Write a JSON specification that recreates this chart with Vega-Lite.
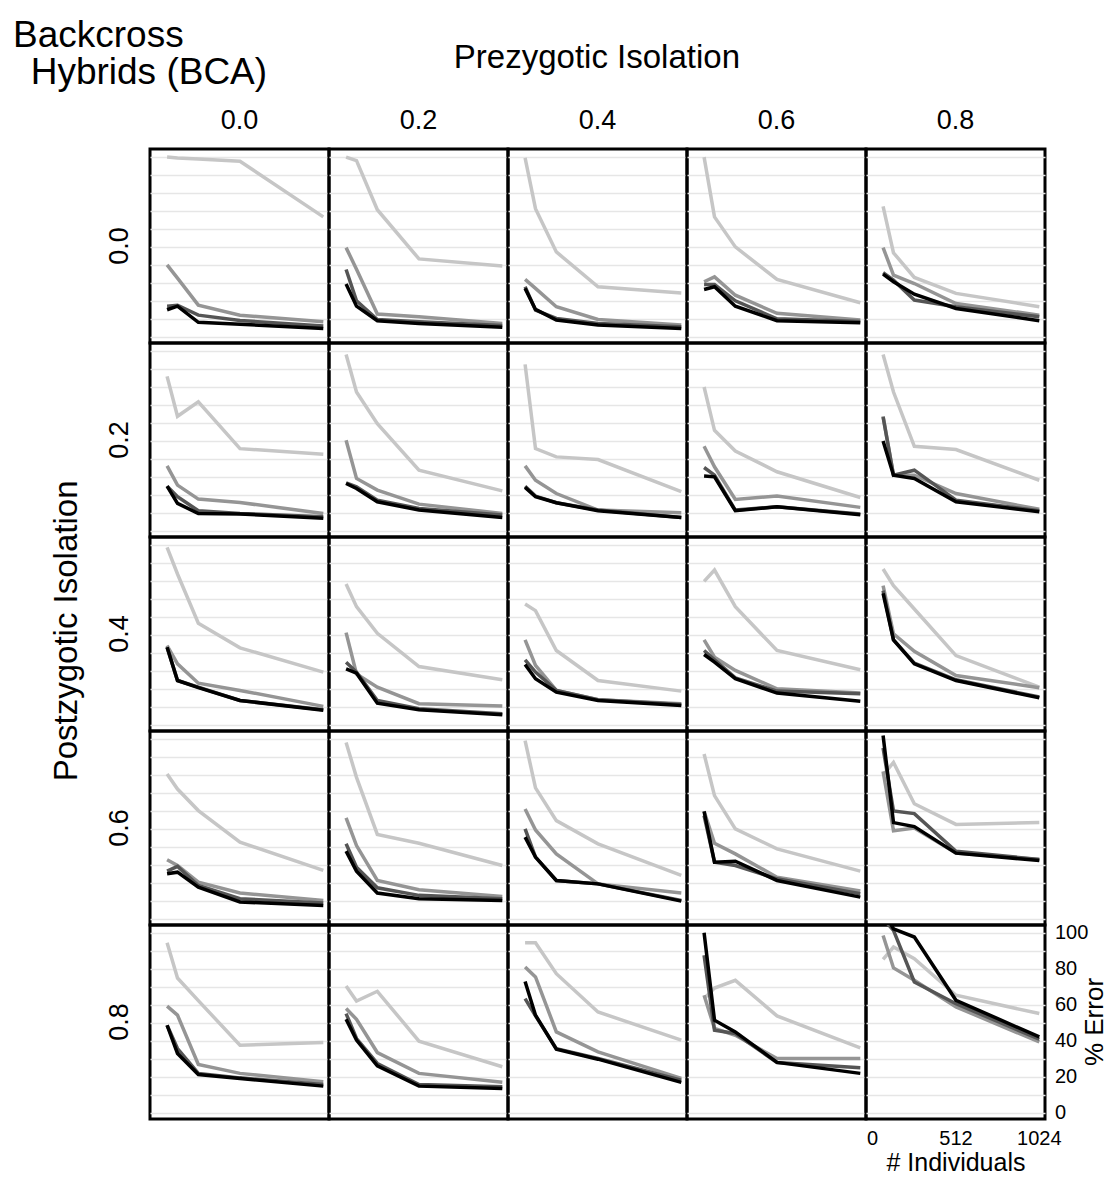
{
  "$schema": "https://vega.github.io/schema/vega-lite/v6.json",
  "background": "white",
  "padding": {"left": 12, "top": 17, "right": 0, "bottom": 0},
  "title": {"text": ["Backcross", "\u200b\u00a0\u2009Hybrids (BCA)"], "anchor": "start", "frame": "bounds", "offset": -50, "dx": -38, "fontSize": 37, "fontWeight": "normal", "font": "Liberation Sans", "color": "black", "lineHeight": 37},
  "config": {
    "font": "Liberation Sans",
    "view": {"stroke": "black", "strokeWidth": 3},
    "header": {"labelColor": "black", "titleColor": "black", "labelFont": "Liberation Sans", "titleFont": "Liberation Sans", "titleFontWeight": "normal"}
  },
  "data": {"values": [
    {"post":"0.0","pre":"0.0","s":"s1","n":64,"err":100},{"post":"0.0","pre":"0.0","s":"s1","n":128,"err":99.5},{"post":"0.0","pre":"0.0","s":"s1","n":256,"err":99},{"post":"0.0","pre":"0.0","s":"s1","n":512,"err":97.7},{"post":"0.0","pre":"0.0","s":"s1","n":1024,"err":66.7},
    {"post":"0.0","pre":"0.0","s":"s2","n":64,"err":40},{"post":"0.0","pre":"0.0","s":"s2","n":128,"err":32.6},{"post":"0.0","pre":"0.0","s":"s2","n":256,"err":17.6},{"post":"0.0","pre":"0.0","s":"s2","n":512,"err":12},{"post":"0.0","pre":"0.0","s":"s2","n":1024,"err":8.3},
    {"post":"0.0","pre":"0.0","s":"s3","n":64,"err":17},{"post":"0.0","pre":"0.0","s":"s3","n":128,"err":17.5},{"post":"0.0","pre":"0.0","s":"s3","n":256,"err":12},{"post":"0.0","pre":"0.0","s":"s3","n":512,"err":9},{"post":"0.0","pre":"0.0","s":"s3","n":1024,"err":6},
    {"post":"0.0","pre":"0.0","s":"s4","n":64,"err":15},{"post":"0.0","pre":"0.0","s":"s4","n":128,"err":17},{"post":"0.0","pre":"0.0","s":"s4","n":256,"err":8},{"post":"0.0","pre":"0.0","s":"s4","n":512,"err":6.9},{"post":"0.0","pre":"0.0","s":"s4","n":1024,"err":4.6},

    {"post":"0.0","pre":"0.2","s":"s1","n":64,"err":100},{"post":"0.0","pre":"0.2","s":"s1","n":128,"err":98},{"post":"0.0","pre":"0.2","s":"s1","n":256,"err":70.7},{"post":"0.0","pre":"0.2","s":"s1","n":512,"err":43.3},{"post":"0.0","pre":"0.2","s":"s1","n":1024,"err":39.4},
    {"post":"0.0","pre":"0.2","s":"s2","n":64,"err":49.6},{"post":"0.0","pre":"0.2","s":"s2","n":128,"err":37.6},{"post":"0.0","pre":"0.2","s":"s2","n":256,"err":12.6},{"post":"0.0","pre":"0.2","s":"s2","n":512,"err":11.1},{"post":"0.0","pre":"0.2","s":"s2","n":1024,"err":7.4},
    {"post":"0.0","pre":"0.2","s":"s3","n":64,"err":37.4},{"post":"0.0","pre":"0.2","s":"s3","n":128,"err":20},{"post":"0.0","pre":"0.2","s":"s3","n":256,"err":9.6},{"post":"0.0","pre":"0.2","s":"s3","n":512,"err":8.3},{"post":"0.0","pre":"0.2","s":"s3","n":1024,"err":6.3},
    {"post":"0.0","pre":"0.2","s":"s4","n":64,"err":29.3},{"post":"0.0","pre":"0.2","s":"s4","n":128,"err":17},{"post":"0.0","pre":"0.2","s":"s4","n":256,"err":8.9},{"post":"0.0","pre":"0.2","s":"s4","n":512,"err":7.4},{"post":"0.0","pre":"0.2","s":"s4","n":1024,"err":5.2},

    {"post":"0.0","pre":"0.4","s":"s1","n":64,"err":99.6},{"post":"0.0","pre":"0.4","s":"s1","n":128,"err":71.3},{"post":"0.0","pre":"0.4","s":"s1","n":256,"err":47.2},{"post":"0.0","pre":"0.4","s":"s1","n":512,"err":27.8},{"post":"0.0","pre":"0.4","s":"s1","n":1024,"err":24.4},
    {"post":"0.0","pre":"0.4","s":"s2","n":64,"err":31.9},{"post":"0.0","pre":"0.4","s":"s2","n":128,"err":26.9},{"post":"0.0","pre":"0.4","s":"s2","n":256,"err":16.7},{"post":"0.0","pre":"0.4","s":"s2","n":512,"err":9.6},{"post":"0.0","pre":"0.4","s":"s2","n":1024,"err":6.5},
    {"post":"0.0","pre":"0.4","s":"s3","n":64,"err":27.8},{"post":"0.0","pre":"0.4","s":"s3","n":128,"err":14.8},{"post":"0.0","pre":"0.4","s":"s3","n":256,"err":10.2},{"post":"0.0","pre":"0.4","s":"s3","n":512,"err":7.4},{"post":"0.0","pre":"0.4","s":"s3","n":1024,"err":5.6},
    {"post":"0.0","pre":"0.4","s":"s4","n":64,"err":26.9},{"post":"0.0","pre":"0.4","s":"s4","n":128,"err":15.2},{"post":"0.0","pre":"0.4","s":"s4","n":256,"err":9.3},{"post":"0.0","pre":"0.4","s":"s4","n":512,"err":6.5},{"post":"0.0","pre":"0.4","s":"s4","n":1024,"err":4.6},

    {"post":"0.0","pre":"0.6","s":"s1","n":64,"err":100},{"post":"0.0","pre":"0.6","s":"s1","n":128,"err":66.7},{"post":"0.0","pre":"0.6","s":"s1","n":256,"err":50},{"post":"0.0","pre":"0.6","s":"s1","n":512,"err":31.9},{"post":"0.0","pre":"0.6","s":"s1","n":1024,"err":18.9},
    {"post":"0.0","pre":"0.6","s":"s2","n":64,"err":30.6},{"post":"0.0","pre":"0.6","s":"s2","n":128,"err":33.3},{"post":"0.0","pre":"0.6","s":"s2","n":256,"err":23.1},{"post":"0.0","pre":"0.6","s":"s2","n":512,"err":13},{"post":"0.0","pre":"0.6","s":"s2","n":1024,"err":9.3},
    {"post":"0.0","pre":"0.6","s":"s3","n":64,"err":29},{"post":"0.0","pre":"0.6","s":"s3","n":128,"err":29},{"post":"0.0","pre":"0.6","s":"s3","n":256,"err":20},{"post":"0.0","pre":"0.6","s":"s3","n":512,"err":10},{"post":"0.0","pre":"0.6","s":"s3","n":1024,"err":8.5},
    {"post":"0.0","pre":"0.6","s":"s4","n":64,"err":26.3},{"post":"0.0","pre":"0.6","s":"s4","n":128,"err":27.8},{"post":"0.0","pre":"0.6","s":"s4","n":256,"err":17},{"post":"0.0","pre":"0.6","s":"s4","n":512,"err":8.9},{"post":"0.0","pre":"0.6","s":"s4","n":1024,"err":7.8},

    {"post":"0.0","pre":"0.8","s":"s1","n":64,"err":72.6},{"post":"0.0","pre":"0.8","s":"s1","n":128,"err":46.7},{"post":"0.0","pre":"0.8","s":"s1","n":256,"err":33},{"post":"0.0","pre":"0.8","s":"s1","n":512,"err":24.1},{"post":"0.0","pre":"0.8","s":"s1","n":1024,"err":16.7},
    {"post":"0.0","pre":"0.8","s":"s2","n":64,"err":49.6},{"post":"0.0","pre":"0.8","s":"s2","n":128,"err":34.3},{"post":"0.0","pre":"0.8","s":"s2","n":256,"err":29.6},{"post":"0.0","pre":"0.8","s":"s2","n":512,"err":18.5},{"post":"0.0","pre":"0.8","s":"s2","n":1024,"err":12},
    {"post":"0.0","pre":"0.8","s":"s3","n":64,"err":35.6},{"post":"0.0","pre":"0.8","s":"s3","n":128,"err":31.5},{"post":"0.0","pre":"0.8","s":"s3","n":256,"err":20.4},{"post":"0.0","pre":"0.8","s":"s3","n":512,"err":16.7},{"post":"0.0","pre":"0.8","s":"s3","n":1024,"err":11.1},
    {"post":"0.0","pre":"0.8","s":"s4","n":64,"err":34.8},{"post":"0.0","pre":"0.8","s":"s4","n":128,"err":30.6},{"post":"0.0","pre":"0.8","s":"s4","n":256,"err":23.7},{"post":"0.0","pre":"0.8","s":"s4","n":512,"err":15.7},{"post":"0.0","pre":"0.8","s":"s4","n":1024,"err":8.9},

    {"post":"0.2","pre":"0.0","s":"s1","n":64,"err":85.9},{"post":"0.2","pre":"0.0","s":"s1","n":128,"err":63.7},{"post":"0.2","pre":"0.0","s":"s1","n":256,"err":71.7},{"post":"0.2","pre":"0.0","s":"s1","n":512,"err":45.7},{"post":"0.2","pre":"0.0","s":"s1","n":1024,"err":42.6},
    {"post":"0.2","pre":"0.0","s":"s2","n":64,"err":36.1},{"post":"0.2","pre":"0.0","s":"s2","n":128,"err":25.4},{"post":"0.2","pre":"0.0","s":"s2","n":256,"err":17.6},{"post":"0.2","pre":"0.0","s":"s2","n":512,"err":15.7},{"post":"0.2","pre":"0.0","s":"s2","n":1024,"err":9.6},
    {"post":"0.2","pre":"0.0","s":"s3","n":64,"err":24.8},{"post":"0.2","pre":"0.0","s":"s3","n":128,"err":18.9},{"post":"0.2","pre":"0.0","s":"s3","n":256,"err":11.1},{"post":"0.2","pre":"0.0","s":"s3","n":512,"err":9.6},{"post":"0.2","pre":"0.0","s":"s3","n":1024,"err":7.8},
    {"post":"0.2","pre":"0.0","s":"s4","n":64,"err":24.8},{"post":"0.2","pre":"0.0","s":"s4","n":128,"err":15.2},{"post":"0.2","pre":"0.0","s":"s4","n":256,"err":9.6},{"post":"0.2","pre":"0.0","s":"s4","n":512,"err":9.3},{"post":"0.2","pre":"0.0","s":"s4","n":1024,"err":6.9},

    {"post":"0.2","pre":"0.2","s":"s1","n":64,"err":98.1},{"post":"0.2","pre":"0.2","s":"s1","n":128,"err":77.2},{"post":"0.2","pre":"0.2","s":"s1","n":256,"err":59.6},{"post":"0.2","pre":"0.2","s":"s1","n":512,"err":33.7},{"post":"0.2","pre":"0.2","s":"s1","n":1024,"err":22.2},
    {"post":"0.2","pre":"0.2","s":"s2","n":64,"err":50.4},{"post":"0.2","pre":"0.2","s":"s2","n":128,"err":29.1},{"post":"0.2","pre":"0.2","s":"s2","n":256,"err":22.6},{"post":"0.2","pre":"0.2","s":"s2","n":512,"err":14.8},{"post":"0.2","pre":"0.2","s":"s2","n":1024,"err":9.6},
    {"post":"0.2","pre":"0.2","s":"s3","n":64,"err":26.7},{"post":"0.2","pre":"0.2","s":"s3","n":128,"err":24.4},{"post":"0.2","pre":"0.2","s":"s3","n":256,"err":17},{"post":"0.2","pre":"0.2","s":"s3","n":512,"err":12.4},{"post":"0.2","pre":"0.2","s":"s3","n":1024,"err":8.7},
    {"post":"0.2","pre":"0.2","s":"s4","n":64,"err":26.3},{"post":"0.2","pre":"0.2","s":"s4","n":128,"err":23.5},{"post":"0.2","pre":"0.2","s":"s4","n":256,"err":16.1},{"post":"0.2","pre":"0.2","s":"s4","n":512,"err":11.5},{"post":"0.2","pre":"0.2","s":"s4","n":1024,"err":7.4},

    {"post":"0.2","pre":"0.4","s":"s1","n":64,"err":92.6},{"post":"0.2","pre":"0.4","s":"s1","n":128,"err":45.7},{"post":"0.2","pre":"0.4","s":"s1","n":256,"err":41.1},{"post":"0.2","pre":"0.4","s":"s1","n":512,"err":39.6},{"post":"0.2","pre":"0.4","s":"s1","n":1024,"err":21.7},
    {"post":"0.2","pre":"0.4","s":"s2","n":64,"err":36.1},{"post":"0.2","pre":"0.4","s":"s2","n":128,"err":28.1},{"post":"0.2","pre":"0.4","s":"s2","n":256,"err":20.7},{"post":"0.2","pre":"0.4","s":"s2","n":512,"err":11.5},{"post":"0.2","pre":"0.4","s":"s2","n":1024,"err":10},
    {"post":"0.2","pre":"0.4","s":"s3","n":64,"err":24.8},{"post":"0.2","pre":"0.4","s":"s3","n":128,"err":19.3},{"post":"0.2","pre":"0.4","s":"s3","n":256,"err":15.6},{"post":"0.2","pre":"0.4","s":"s3","n":512,"err":11.5},{"post":"0.2","pre":"0.4","s":"s3","n":1024,"err":7.4},
    {"post":"0.2","pre":"0.4","s":"s4","n":64,"err":24.1},{"post":"0.2","pre":"0.4","s":"s4","n":128,"err":18.9},{"post":"0.2","pre":"0.4","s":"s4","n":256,"err":15.6},{"post":"0.2","pre":"0.4","s":"s4","n":512,"err":11.1},{"post":"0.2","pre":"0.4","s":"s4","n":1024,"err":7.4},

    {"post":"0.2","pre":"0.6","s":"s1","n":64,"err":80},{"post":"0.2","pre":"0.6","s":"s1","n":128,"err":55.9},{"post":"0.2","pre":"0.6","s":"s1","n":256,"err":44.4},{"post":"0.2","pre":"0.6","s":"s1","n":512,"err":32.8},{"post":"0.2","pre":"0.6","s":"s1","n":1024,"err":18.5},
    {"post":"0.2","pre":"0.6","s":"s2","n":64,"err":47},{"post":"0.2","pre":"0.6","s":"s2","n":128,"err":35.6},{"post":"0.2","pre":"0.6","s":"s2","n":256,"err":17.4},{"post":"0.2","pre":"0.6","s":"s2","n":512,"err":19.3},{"post":"0.2","pre":"0.6","s":"s2","n":1024,"err":13},
    {"post":"0.2","pre":"0.6","s":"s3","n":64,"err":35.2},{"post":"0.2","pre":"0.6","s":"s3","n":128,"err":30.9},{"post":"0.2","pre":"0.6","s":"s3","n":256,"err":11.5},{"post":"0.2","pre":"0.6","s":"s3","n":512,"err":13.3},{"post":"0.2","pre":"0.6","s":"s3","n":1024,"err":9.3},
    {"post":"0.2","pre":"0.6","s":"s4","n":64,"err":30.4},{"post":"0.2","pre":"0.6","s":"s4","n":128,"err":30},{"post":"0.2","pre":"0.6","s":"s4","n":256,"err":11.1},{"post":"0.2","pre":"0.6","s":"s4","n":512,"err":13.3},{"post":"0.2","pre":"0.6","s":"s4","n":1024,"err":8.9},

    {"post":"0.2","pre":"0.8","s":"s1","n":64,"err":98.1},{"post":"0.2","pre":"0.8","s":"s1","n":128,"err":77.2},{"post":"0.2","pre":"0.8","s":"s1","n":256,"err":47},{"post":"0.2","pre":"0.8","s":"s1","n":512,"err":45.2},{"post":"0.2","pre":"0.8","s":"s1","n":1024,"err":28.1},
    {"post":"0.2","pre":"0.8","s":"s2","n":64,"err":63.7},{"post":"0.2","pre":"0.8","s":"s2","n":128,"err":30.9},{"post":"0.2","pre":"0.8","s":"s2","n":256,"err":30.9},{"post":"0.2","pre":"0.8","s":"s2","n":512,"err":20.7},{"post":"0.2","pre":"0.8","s":"s2","n":1024,"err":11.9},
    {"post":"0.2","pre":"0.8","s":"s3","n":64,"err":63.3},{"post":"0.2","pre":"0.8","s":"s3","n":128,"err":30.9},{"post":"0.2","pre":"0.8","s":"s3","n":256,"err":33.7},{"post":"0.2","pre":"0.8","s":"s3","n":512,"err":17},{"post":"0.2","pre":"0.8","s":"s3","n":1024,"err":11.1},
    {"post":"0.2","pre":"0.8","s":"s4","n":64,"err":50},{"post":"0.2","pre":"0.8","s":"s4","n":128,"err":30.9},{"post":"0.2","pre":"0.8","s":"s4","n":256,"err":29.1},{"post":"0.2","pre":"0.8","s":"s4","n":512,"err":16.1},{"post":"0.2","pre":"0.8","s":"s4","n":1024,"err":10.6},

    {"post":"0.4","pre":"0.0","s":"s1","n":64,"err":98.7},{"post":"0.4","pre":"0.0","s":"s1","n":128,"err":83.9},{"post":"0.4","pre":"0.0","s":"s1","n":256,"err":56.5},{"post":"0.4","pre":"0.0","s":"s1","n":512,"err":42.8},{"post":"0.4","pre":"0.0","s":"s1","n":1024,"err":29.3},
    {"post":"0.4","pre":"0.0","s":"s2","n":64,"err":44.1},{"post":"0.4","pre":"0.0","s":"s2","n":128,"err":33.9},{"post":"0.4","pre":"0.0","s":"s2","n":256,"err":23.1},{"post":"0.4","pre":"0.0","s":"s2","n":512,"err":19.1},{"post":"0.4","pre":"0.0","s":"s2","n":1024,"err":10.2},
    {"post":"0.4","pre":"0.0","s":"s3","n":64,"err":43.1},{"post":"0.4","pre":"0.0","s":"s3","n":128,"err":24.6},{"post":"0.4","pre":"0.0","s":"s3","n":256,"err":20.9},{"post":"0.4","pre":"0.0","s":"s3","n":512,"err":13.5},{"post":"0.4","pre":"0.0","s":"s3","n":1024,"err":8.3},
    {"post":"0.4","pre":"0.0","s":"s4","n":64,"err":43.1},{"post":"0.4","pre":"0.0","s":"s4","n":128,"err":24.6},{"post":"0.4","pre":"0.0","s":"s4","n":256,"err":20.6},{"post":"0.4","pre":"0.0","s":"s4","n":512,"err":13.5},{"post":"0.4","pre":"0.0","s":"s4","n":1024,"err":8},

    {"post":"0.4","pre":"0.2","s":"s1","n":64,"err":78.3},{"post":"0.4","pre":"0.2","s":"s1","n":128,"err":65.7},{"post":"0.4","pre":"0.2","s":"s1","n":256,"err":50.9},{"post":"0.4","pre":"0.2","s":"s1","n":512,"err":32.4},{"post":"0.4","pre":"0.2","s":"s1","n":1024,"err":25},
    {"post":"0.4","pre":"0.2","s":"s2","n":64,"err":51.3},{"post":"0.4","pre":"0.2","s":"s2","n":128,"err":28.3},{"post":"0.4","pre":"0.2","s":"s2","n":256,"err":20.9},{"post":"0.4","pre":"0.2","s":"s2","n":512,"err":11.7},{"post":"0.4","pre":"0.2","s":"s2","n":1024,"err":10.4},
    {"post":"0.4","pre":"0.2","s":"s3","n":64,"err":34.8},{"post":"0.4","pre":"0.2","s":"s3","n":128,"err":29.3},{"post":"0.4","pre":"0.2","s":"s3","n":256,"err":13.5},{"post":"0.4","pre":"0.2","s":"s3","n":512,"err":8.9},{"post":"0.4","pre":"0.2","s":"s3","n":1024,"err":6.1},
    {"post":"0.4","pre":"0.2","s":"s4","n":64,"err":31.1},{"post":"0.4","pre":"0.2","s":"s4","n":128,"err":28.7},{"post":"0.4","pre":"0.2","s":"s4","n":256,"err":12},{"post":"0.4","pre":"0.2","s":"s4","n":512,"err":8.3},{"post":"0.4","pre":"0.2","s":"s4","n":1024,"err":5.6},

    {"post":"0.4","pre":"0.4","s":"s1","n":64,"err":67.2},{"post":"0.4","pre":"0.4","s":"s1","n":128,"err":63.5},{"post":"0.4","pre":"0.4","s":"s1","n":256,"err":41.3},{"post":"0.4","pre":"0.4","s":"s1","n":512,"err":24.6},{"post":"0.4","pre":"0.4","s":"s1","n":1024,"err":18.7},
    {"post":"0.4","pre":"0.4","s":"s2","n":64,"err":47.2},{"post":"0.4","pre":"0.4","s":"s2","n":128,"err":33},{"post":"0.4","pre":"0.4","s":"s2","n":256,"err":19.1},{"post":"0.4","pre":"0.4","s":"s2","n":512,"err":13.9},{"post":"0.4","pre":"0.4","s":"s2","n":1024,"err":11.7},
    {"post":"0.4","pre":"0.4","s":"s3","n":64,"err":36.1},{"post":"0.4","pre":"0.4","s":"s3","n":128,"err":29.3},{"post":"0.4","pre":"0.4","s":"s3","n":256,"err":19.1},{"post":"0.4","pre":"0.4","s":"s3","n":512,"err":13.9},{"post":"0.4","pre":"0.4","s":"s3","n":1024,"err":11.3},
    {"post":"0.4","pre":"0.4","s":"s4","n":64,"err":33.5},{"post":"0.4","pre":"0.4","s":"s4","n":128,"err":25.6},{"post":"0.4","pre":"0.4","s":"s4","n":256,"err":18.1},{"post":"0.4","pre":"0.4","s":"s4","n":512,"err":13.5},{"post":"0.4","pre":"0.4","s":"s4","n":1024,"err":10.7},

    {"post":"0.4","pre":"0.6","s":"s1","n":64,"err":79.8},{"post":"0.4","pre":"0.6","s":"s1","n":128,"err":86.1},{"post":"0.4","pre":"0.6","s":"s1","n":256,"err":65.7},{"post":"0.4","pre":"0.6","s":"s1","n":512,"err":41.3},{"post":"0.4","pre":"0.6","s":"s1","n":1024,"err":30.6},
    {"post":"0.4","pre":"0.6","s":"s2","n":64,"err":47.2},{"post":"0.4","pre":"0.6","s":"s2","n":128,"err":37.6},{"post":"0.4","pre":"0.6","s":"s2","n":256,"err":30.2},{"post":"0.4","pre":"0.6","s":"s2","n":512,"err":20},{"post":"0.4","pre":"0.6","s":"s2","n":1024,"err":17.6},
    {"post":"0.4","pre":"0.6","s":"s3","n":64,"err":41.3},{"post":"0.4","pre":"0.6","s":"s3","n":128,"err":36.1},{"post":"0.4","pre":"0.6","s":"s3","n":256,"err":26.1},{"post":"0.4","pre":"0.6","s":"s3","n":512,"err":18.7},{"post":"0.4","pre":"0.6","s":"s3","n":1024,"err":17.2},
    {"post":"0.4","pre":"0.6","s":"s4","n":64,"err":39.1},{"post":"0.4","pre":"0.6","s":"s4","n":128,"err":34.8},{"post":"0.4","pre":"0.6","s":"s4","n":256,"err":25.6},{"post":"0.4","pre":"0.6","s":"s4","n":512,"err":17.6},{"post":"0.4","pre":"0.6","s":"s4","n":1024,"err":13},

    {"post":"0.4","pre":"0.8","s":"s1","n":64,"err":86.7},{"post":"0.4","pre":"0.8","s":"s1","n":128,"err":77.4},{"post":"0.4","pre":"0.8","s":"s1","n":256,"err":64.4},{"post":"0.4","pre":"0.8","s":"s1","n":512,"err":38.5},{"post":"0.4","pre":"0.8","s":"s1","n":1024,"err":20.9},
    {"post":"0.4","pre":"0.8","s":"s2","n":64,"err":77.4},{"post":"0.4","pre":"0.8","s":"s2","n":128,"err":50.6},{"post":"0.4","pre":"0.8","s":"s2","n":256,"err":40.9},{"post":"0.4","pre":"0.8","s":"s2","n":512,"err":27.4},{"post":"0.4","pre":"0.8","s":"s2","n":1024,"err":20.6},
    {"post":"0.4","pre":"0.8","s":"s3","n":64,"err":74.6},{"post":"0.4","pre":"0.8","s":"s3","n":128,"err":47.2},{"post":"0.4","pre":"0.8","s":"s3","n":256,"err":34.3},{"post":"0.4","pre":"0.8","s":"s3","n":512,"err":25},{"post":"0.4","pre":"0.8","s":"s3","n":1024,"err":15.4},
    {"post":"0.4","pre":"0.8","s":"s4","n":64,"err":73.1},{"post":"0.4","pre":"0.8","s":"s4","n":128,"err":47.2},{"post":"0.4","pre":"0.8","s":"s4","n":256,"err":33.9},{"post":"0.4","pre":"0.8","s":"s4","n":512,"err":24.6},{"post":"0.4","pre":"0.8","s":"s4","n":1024,"err":15},

    {"post":"0.6","pre":"0.0","s":"s1","n":64,"err":80.6},{"post":"0.6","pre":"0.0","s":"s1","n":128,"err":72.2},{"post":"0.6","pre":"0.0","s":"s1","n":256,"err":60.2},{"post":"0.6","pre":"0.0","s":"s1","n":512,"err":42.6},{"post":"0.6","pre":"0.0","s":"s1","n":1024,"err":26.9},
    {"post":"0.6","pre":"0.0","s":"s2","n":64,"err":32.8},{"post":"0.6","pre":"0.0","s":"s2","n":128,"err":29.6},{"post":"0.6","pre":"0.0","s":"s2","n":256,"err":20.4},{"post":"0.6","pre":"0.0","s":"s2","n":512,"err":14.3},{"post":"0.6","pre":"0.0","s":"s2","n":1024,"err":10.2},
    {"post":"0.6","pre":"0.0","s":"s3","n":64,"err":26.5},{"post":"0.6","pre":"0.0","s":"s3","n":128,"err":29.1},{"post":"0.6","pre":"0.0","s":"s3","n":256,"err":18.5},{"post":"0.6","pre":"0.0","s":"s3","n":512,"err":11.1},{"post":"0.6","pre":"0.0","s":"s3","n":1024,"err":8.7},
    {"post":"0.6","pre":"0.0","s":"s4","n":64,"err":25},{"post":"0.6","pre":"0.0","s":"s4","n":128,"err":25.9},{"post":"0.6","pre":"0.0","s":"s4","n":256,"err":17.6},{"post":"0.6","pre":"0.0","s":"s4","n":512,"err":9.3},{"post":"0.6","pre":"0.0","s":"s4","n":1024,"err":7.4},

    {"post":"0.6","pre":"0.2","s":"s1","n":64,"err":98.1},{"post":"0.6","pre":"0.2","s":"s1","n":128,"err":78.7},{"post":"0.6","pre":"0.2","s":"s1","n":256,"err":46.9},{"post":"0.6","pre":"0.2","s":"s1","n":512,"err":42},{"post":"0.6","pre":"0.2","s":"s1","n":1024,"err":29.6},
    {"post":"0.6","pre":"0.2","s":"s2","n":64,"err":56.1},{"post":"0.6","pre":"0.2","s":"s2","n":128,"err":40.7},{"post":"0.6","pre":"0.2","s":"s2","n":256,"err":21.3},{"post":"0.6","pre":"0.2","s":"s2","n":512,"err":16.1},{"post":"0.6","pre":"0.2","s":"s2","n":1024,"err":12.4},
    {"post":"0.6","pre":"0.2","s":"s3","n":64,"err":41.7},{"post":"0.6","pre":"0.2","s":"s3","n":128,"err":28.7},{"post":"0.6","pre":"0.2","s":"s3","n":256,"err":17.2},{"post":"0.6","pre":"0.2","s":"s3","n":512,"err":13},{"post":"0.6","pre":"0.2","s":"s3","n":1024,"err":11.1},
    {"post":"0.6","pre":"0.2","s":"s4","n":64,"err":37.6},{"post":"0.6","pre":"0.2","s":"s4","n":128,"err":26.5},{"post":"0.6","pre":"0.2","s":"s4","n":256,"err":14.3},{"post":"0.6","pre":"0.2","s":"s4","n":512,"err":11.1},{"post":"0.6","pre":"0.2","s":"s4","n":1024,"err":10.2},

    {"post":"0.6","pre":"0.4","s":"s1","n":64,"err":99.1},{"post":"0.6","pre":"0.4","s":"s1","n":128,"err":72.8},{"post":"0.6","pre":"0.4","s":"s1","n":256,"err":54.6},{"post":"0.6","pre":"0.4","s":"s1","n":512,"err":41.7},{"post":"0.6","pre":"0.4","s":"s1","n":1024,"err":24.1},
    {"post":"0.6","pre":"0.4","s":"s2","n":64,"err":61.1},{"post":"0.6","pre":"0.4","s":"s2","n":128,"err":49.4},{"post":"0.6","pre":"0.4","s":"s2","n":256,"err":36.1},{"post":"0.6","pre":"0.4","s":"s2","n":512,"err":19.4},{"post":"0.6","pre":"0.4","s":"s2","n":1024,"err":14.3},
    {"post":"0.6","pre":"0.4","s":"s3","n":64,"err":50},{"post":"0.6","pre":"0.4","s":"s3","n":128,"err":34.3},{"post":"0.6","pre":"0.4","s":"s3","n":256,"err":21.3},{"post":"0.6","pre":"0.4","s":"s3","n":512,"err":19.4},{"post":"0.6","pre":"0.4","s":"s3","n":1024,"err":10.2},
    {"post":"0.6","pre":"0.4","s":"s4","n":64,"err":45.4},{"post":"0.6","pre":"0.4","s":"s4","n":128,"err":34.3},{"post":"0.6","pre":"0.4","s":"s4","n":256,"err":21.3},{"post":"0.6","pre":"0.4","s":"s4","n":512,"err":19.4},{"post":"0.6","pre":"0.4","s":"s4","n":1024,"err":9.8},

    {"post":"0.6","pre":"0.6","s":"s1","n":64,"err":91.7},{"post":"0.6","pre":"0.6","s":"s1","n":128,"err":68.5},{"post":"0.6","pre":"0.6","s":"s1","n":256,"err":50},{"post":"0.6","pre":"0.6","s":"s1","n":512,"err":38.9},{"post":"0.6","pre":"0.6","s":"s1","n":1024,"err":26.5},
    {"post":"0.6","pre":"0.6","s":"s2","n":64,"err":59.8},{"post":"0.6","pre":"0.6","s":"s2","n":128,"err":42},{"post":"0.6","pre":"0.6","s":"s2","n":256,"err":36.1},{"post":"0.6","pre":"0.6","s":"s2","n":512,"err":23.1},{"post":"0.6","pre":"0.6","s":"s2","n":1024,"err":15.4},
    {"post":"0.6","pre":"0.6","s":"s3","n":64,"err":57.4},{"post":"0.6","pre":"0.6","s":"s3","n":128,"err":31.5},{"post":"0.6","pre":"0.6","s":"s3","n":256,"err":29.6},{"post":"0.6","pre":"0.6","s":"s3","n":512,"err":22.2},{"post":"0.6","pre":"0.6","s":"s3","n":1024,"err":13.9},
    {"post":"0.6","pre":"0.6","s":"s4","n":64,"err":59.8},{"post":"0.6","pre":"0.6","s":"s4","n":128,"err":31.5},{"post":"0.6","pre":"0.6","s":"s4","n":256,"err":32},{"post":"0.6","pre":"0.6","s":"s4","n":512,"err":21.3},{"post":"0.6","pre":"0.6","s":"s4","n":1024,"err":12},

    {"post":"0.6","pre":"0.8","s":"s1","n":64,"err":80},{"post":"0.6","pre":"0.8","s":"s1","n":128,"err":87},{"post":"0.6","pre":"0.8","s":"s1","n":256,"err":64},{"post":"0.6","pre":"0.8","s":"s1","n":512,"err":52.5},{"post":"0.6","pre":"0.8","s":"s1","n":1024,"err":53.5},
    {"post":"0.6","pre":"0.8","s":"s2","n":64,"err":82},{"post":"0.6","pre":"0.8","s":"s2","n":128,"err":49},{"post":"0.6","pre":"0.8","s":"s2","n":256,"err":50.5},{"post":"0.6","pre":"0.8","s":"s2","n":512,"err":36.5},{"post":"0.6","pre":"0.8","s":"s2","n":1024,"err":33},
    {"post":"0.6","pre":"0.8","s":"s3","n":64,"err":95},{"post":"0.6","pre":"0.8","s":"s3","n":128,"err":60},{"post":"0.6","pre":"0.8","s":"s3","n":256,"err":58.5},{"post":"0.6","pre":"0.8","s":"s3","n":512,"err":37.5},{"post":"0.6","pre":"0.8","s":"s3","n":1024,"err":33},
    {"post":"0.6","pre":"0.8","s":"s4","n":64,"err":102},{"post":"0.6","pre":"0.8","s":"s4","n":128,"err":53.5},{"post":"0.6","pre":"0.8","s":"s4","n":256,"err":51.3},{"post":"0.6","pre":"0.8","s":"s4","n":512,"err":36.5},{"post":"0.6","pre":"0.8","s":"s4","n":1024,"err":32.4},

    {"post":"0.8","pre":"0.0","s":"s1","n":64,"err":94.6},{"post":"0.8","pre":"0.0","s":"s1","n":128,"err":75},{"post":"0.8","pre":"0.0","s":"s1","n":256,"err":62.4},{"post":"0.8","pre":"0.0","s":"s1","n":512,"err":37.6},{"post":"0.8","pre":"0.0","s":"s1","n":1024,"err":39.1},
    {"post":"0.8","pre":"0.0","s":"s2","n":64,"err":59.3},{"post":"0.8","pre":"0.0","s":"s2","n":128,"err":54.3},{"post":"0.8","pre":"0.0","s":"s2","n":256,"err":26.9},{"post":"0.8","pre":"0.0","s":"s2","n":512,"err":21.9},{"post":"0.8","pre":"0.0","s":"s2","n":1024,"err":17.2},
    {"post":"0.8","pre":"0.0","s":"s3","n":64,"err":48.7},{"post":"0.8","pre":"0.0","s":"s3","n":128,"err":35.7},{"post":"0.8","pre":"0.0","s":"s3","n":256,"err":21.9},{"post":"0.8","pre":"0.0","s":"s3","n":512,"err":19.4},{"post":"0.8","pre":"0.0","s":"s3","n":1024,"err":15.7},
    {"post":"0.8","pre":"0.0","s":"s4","n":64,"err":48.7},{"post":"0.8","pre":"0.0","s":"s4","n":128,"err":33},{"post":"0.8","pre":"0.0","s":"s4","n":256,"err":21.3},{"post":"0.8","pre":"0.0","s":"s4","n":512,"err":19.1},{"post":"0.8","pre":"0.0","s":"s4","n":1024,"err":14.8},

    {"post":"0.8","pre":"0.2","s":"s1","n":64,"err":70.6},{"post":"0.8","pre":"0.2","s":"s1","n":128,"err":62.2},{"post":"0.8","pre":"0.2","s":"s1","n":256,"err":67.6},{"post":"0.8","pre":"0.2","s":"s1","n":512,"err":39.8},{"post":"0.8","pre":"0.2","s":"s1","n":1024,"err":25.6},
    {"post":"0.8","pre":"0.2","s":"s2","n":64,"err":58},{"post":"0.8","pre":"0.2","s":"s2","n":128,"err":52},{"post":"0.8","pre":"0.2","s":"s2","n":256,"err":33.5},{"post":"0.8","pre":"0.2","s":"s2","n":512,"err":21.9},{"post":"0.8","pre":"0.2","s":"s2","n":1024,"err":16.9},
    {"post":"0.8","pre":"0.2","s":"s3","n":64,"err":55.2},{"post":"0.8","pre":"0.2","s":"s3","n":128,"err":41.3},{"post":"0.8","pre":"0.2","s":"s3","n":256,"err":27.4},{"post":"0.8","pre":"0.2","s":"s3","n":512,"err":15.7},{"post":"0.8","pre":"0.2","s":"s3","n":1024,"err":14.4},
    {"post":"0.8","pre":"0.2","s":"s4","n":64,"err":52},{"post":"0.8","pre":"0.2","s":"s4","n":128,"err":40.4},{"post":"0.8","pre":"0.2","s":"s4","n":256,"err":26.1},{"post":"0.8","pre":"0.2","s":"s4","n":512,"err":14.8},{"post":"0.8","pre":"0.2","s":"s4","n":1024,"err":13.5},

    {"post":"0.8","pre":"0.4","s":"s1","n":64,"err":94.6},{"post":"0.8","pre":"0.4","s":"s1","n":128,"err":94.6},{"post":"0.8","pre":"0.4","s":"s1","n":256,"err":77.4},{"post":"0.8","pre":"0.4","s":"s1","n":512,"err":56.1},{"post":"0.8","pre":"0.4","s":"s1","n":1024,"err":40.4},
    {"post":"0.8","pre":"0.4","s":"s2","n":64,"err":81.1},{"post":"0.8","pre":"0.4","s":"s2","n":128,"err":75.6},{"post":"0.8","pre":"0.4","s":"s2","n":256,"err":45},{"post":"0.8","pre":"0.4","s":"s2","n":512,"err":33.9},{"post":"0.8","pre":"0.4","s":"s2","n":1024,"err":19.1},
    {"post":"0.8","pre":"0.4","s":"s3","n":64,"err":63.5},{"post":"0.8","pre":"0.4","s":"s3","n":128,"err":53.9},{"post":"0.8","pre":"0.4","s":"s3","n":256,"err":35.7},{"post":"0.8","pre":"0.4","s":"s3","n":512,"err":30.2},{"post":"0.8","pre":"0.4","s":"s3","n":1024,"err":18.1},
    {"post":"0.8","pre":"0.4","s":"s4","n":64,"err":73.1},{"post":"0.8","pre":"0.4","s":"s4","n":128,"err":54.3},{"post":"0.8","pre":"0.4","s":"s4","n":256,"err":35.4},{"post":"0.8","pre":"0.4","s":"s4","n":512,"err":29.8},{"post":"0.8","pre":"0.4","s":"s4","n":1024,"err":16.9},

    {"post":"0.8","pre":"0.6","s":"s1","n":64,"err":63.5},{"post":"0.8","pre":"0.6","s":"s1","n":128,"err":69.4},{"post":"0.8","pre":"0.6","s":"s1","n":256,"err":73.7},{"post":"0.8","pre":"0.6","s":"s1","n":512,"err":53.9},{"post":"0.8","pre":"0.6","s":"s1","n":1024,"err":36.1},
    {"post":"0.8","pre":"0.6","s":"s2","n":64,"err":65.4},{"post":"0.8","pre":"0.6","s":"s2","n":128,"err":46.9},{"post":"0.8","pre":"0.6","s":"s2","n":256,"err":43.1},{"post":"0.8","pre":"0.6","s":"s2","n":512,"err":30.2},{"post":"0.8","pre":"0.6","s":"s2","n":1024,"err":30.2},
    {"post":"0.8","pre":"0.6","s":"s3","n":64,"err":87.6},{"post":"0.8","pre":"0.6","s":"s3","n":128,"err":45.9},{"post":"0.8","pre":"0.6","s":"s3","n":256,"err":44.1},{"post":"0.8","pre":"0.6","s":"s3","n":512,"err":28},{"post":"0.8","pre":"0.6","s":"s3","n":1024,"err":25},
    {"post":"0.8","pre":"0.6","s":"s4","n":64,"err":100.2},{"post":"0.8","pre":"0.6","s":"s4","n":128,"err":51.5},{"post":"0.8","pre":"0.6","s":"s4","n":256,"err":45},{"post":"0.8","pre":"0.6","s":"s4","n":512,"err":28},{"post":"0.8","pre":"0.6","s":"s4","n":1024,"err":21.9},

    {"post":"0.8","pre":"0.8","s":"s1","n":64,"err":85.4},{"post":"0.8","pre":"0.8","s":"s1","n":128,"err":92.2},{"post":"0.8","pre":"0.8","s":"s1","n":256,"err":85.7},{"post":"0.8","pre":"0.8","s":"s1","n":512,"err":65.4},{"post":"0.8","pre":"0.8","s":"s1","n":1024,"err":55.2},
    {"post":"0.8","pre":"0.8","s":"s2","n":64,"err":98.7},{"post":"0.8","pre":"0.8","s":"s2","n":128,"err":80.6},{"post":"0.8","pre":"0.8","s":"s2","n":256,"err":73.7},{"post":"0.8","pre":"0.8","s":"s2","n":512,"err":58.9},{"post":"0.8","pre":"0.8","s":"s2","n":1024,"err":39.4},
    {"post":"0.8","pre":"0.8","s":"s3","n":64,"err":108},{"post":"0.8","pre":"0.8","s":"s3","n":128,"err":101.5},{"post":"0.8","pre":"0.8","s":"s3","n":256,"err":72.8},{"post":"0.8","pre":"0.8","s":"s3","n":512,"err":60.7},{"post":"0.8","pre":"0.8","s":"s3","n":1024,"err":40.9},
    {"post":"0.8","pre":"0.8","s":"s4","n":64,"err":112},{"post":"0.8","pre":"0.8","s":"s4","n":128,"err":102.4},{"post":"0.8","pre":"0.8","s":"s4","n":256,"err":97.8},{"post":"0.8","pre":"0.8","s":"s4","n":512,"err":62.6},{"post":"0.8","pre":"0.8","s":"s4","n":1024,"err":42.2},

    {"post":"0.8","pre":"0.8","ytick":0},{"post":"0.8","pre":"0.8","ytick":20},{"post":"0.8","pre":"0.8","ytick":40},{"post":"0.8","pre":"0.8","ytick":60},{"post":"0.8","pre":"0.8","ytick":80},{"post":"0.8","pre":"0.8","ytick":100},
    {"post":"0.8","pre":"0.8","xtick":0},{"post":"0.8","pre":"0.8","xtick":512},{"post":"0.8","pre":"0.8","xtick":1024},
    {"post":"0.8","pre":"0.8","ytitle":"% Error"},
    {"post":"0.8","pre":"0.8","xtitle":"# Individuals"}
  ]},
  "facet": {
    "row": {"field": "post", "type": "ordinal", "title": "\u200b\u00a0\u00a0\u00a0\u00a0\u00a0\u00a0\u00a0Postzygotic Isolation",
      "header": {"labelFontSize": 27, "titleFontSize": 33, "labelPadding": 16, "titlePadding": 12}},
    "column": {"field": "pre", "type": "ordinal", "title": "Prezygotic Isolation\u00a0\u00a0\u00a0\u00a0\u00a0\u00a0\u00a0\u200b",
      "header": {"labelFontSize": 27, "titleFontSize": 33, "labelPadding": 14, "titlePadding": 22}}
  },
  "spacing": 0,
  "bounds": "flush",
  "spec": {
    "width": 179,
    "height": 194,
    "layer": [
      {
        "transform": [{"filter": "isValid(datum.s)"}],
        "mark": {"type": "line", "strokeWidth": 3.5, "clip": true, "strokeJoin": "miter"},
        "encoding": {
          "x": {"field": "n", "type": "quantitative", "scale": {"domain": [-41, 1059], "nice": false, "zero": false}, "axis": null},
          "y": {"field": "err", "type": "quantitative", "scale": {"domain": [-3.5, 104.5], "nice": false, "zero": false},
            "axis": {"grid": true, "values": [0, 10, 20, 30, 40, 50, 60, 70, 80, 90, 100], "labels": false, "ticks": false, "domain": false, "title": null, "gridColor": "#e6e6e6", "gridWidth": 1.5, "minExtent": 0, "maxExtent": 0}},
          "color": {"field": "s", "type": "nominal", "scale": {"domain": ["s1", "s2", "s3", "s4"], "range": ["#c6c6c6", "#959595", "#555555", "#000000"]}, "legend": null}
        }
      },
      {
        "transform": [{"filter": "isValid(datum.ytick)"}],
        "mark": {"type": "text", "align": "left", "baseline": "middle", "fontSize": 20, "color": "black"},
        "encoding": {
          "x": {"datum": 1120, "type": "quantitative", "axis": null},
          "y": {"field": "ytick", "type": "quantitative",
            "axis": {"grid": true, "values": [0, 10, 20, 30, 40, 50, 60, 70, 80, 90, 100], "labels": false, "ticks": false, "domain": false, "title": null, "gridColor": "#e6e6e6", "gridWidth": 1.5, "minExtent": 0, "maxExtent": 0}},
          "text": {"field": "ytick", "type": "quantitative"}
        }
      },
      {
        "transform": [{"filter": "isValid(datum.xtick)"}],
        "mark": {"type": "text", "align": "center", "baseline": "middle", "fontSize": 20, "color": "black"},
        "encoding": {
          "x": {"field": "xtick", "type": "quantitative", "axis": null},
          "y": {"datum": -14.5, "type": "quantitative",
            "axis": {"grid": true, "values": [0, 10, 20, 30, 40, 50, 60, 70, 80, 90, 100], "labels": false, "ticks": false, "domain": false, "title": null, "gridColor": "#e6e6e6", "gridWidth": 1.5, "minExtent": 0, "maxExtent": 0}},
          "text": {"field": "xtick", "type": "quantitative"}
        }
      },
      {
        "transform": [{"filter": "isValid(datum.ytitle)"}],
        "mark": {"type": "text", "align": "center", "baseline": "middle", "fontSize": 26, "angle": 270, "color": "black"},
        "encoding": {
          "x": {"datum": 1366, "type": "quantitative", "axis": null},
          "y": {"datum": 50.5, "type": "quantitative",
            "axis": {"grid": true, "values": [0, 10, 20, 30, 40, 50, 60, 70, 80, 90, 100], "labels": false, "ticks": false, "domain": false, "title": null, "gridColor": "#e6e6e6", "gridWidth": 1.5, "minExtent": 0, "maxExtent": 0}},
          "text": {"field": "ytitle"}
        }
      },
      {
        "transform": [{"filter": "isValid(datum.xtitle)"}],
        "mark": {"type": "text", "align": "center", "baseline": "middle", "fontSize": 25, "color": "black"},
        "encoding": {
          "x": {"datum": 512, "type": "quantitative", "axis": null},
          "y": {"datum": -28, "type": "quantitative",
            "axis": {"grid": true, "values": [0, 10, 20, 30, 40, 50, 60, 70, 80, 90, 100], "labels": false, "ticks": false, "domain": false, "title": null, "gridColor": "#e6e6e6", "gridWidth": 1.5, "minExtent": 0, "maxExtent": 0}},
          "text": {"field": "xtitle"}
        }
      }
    ]
  }
}
